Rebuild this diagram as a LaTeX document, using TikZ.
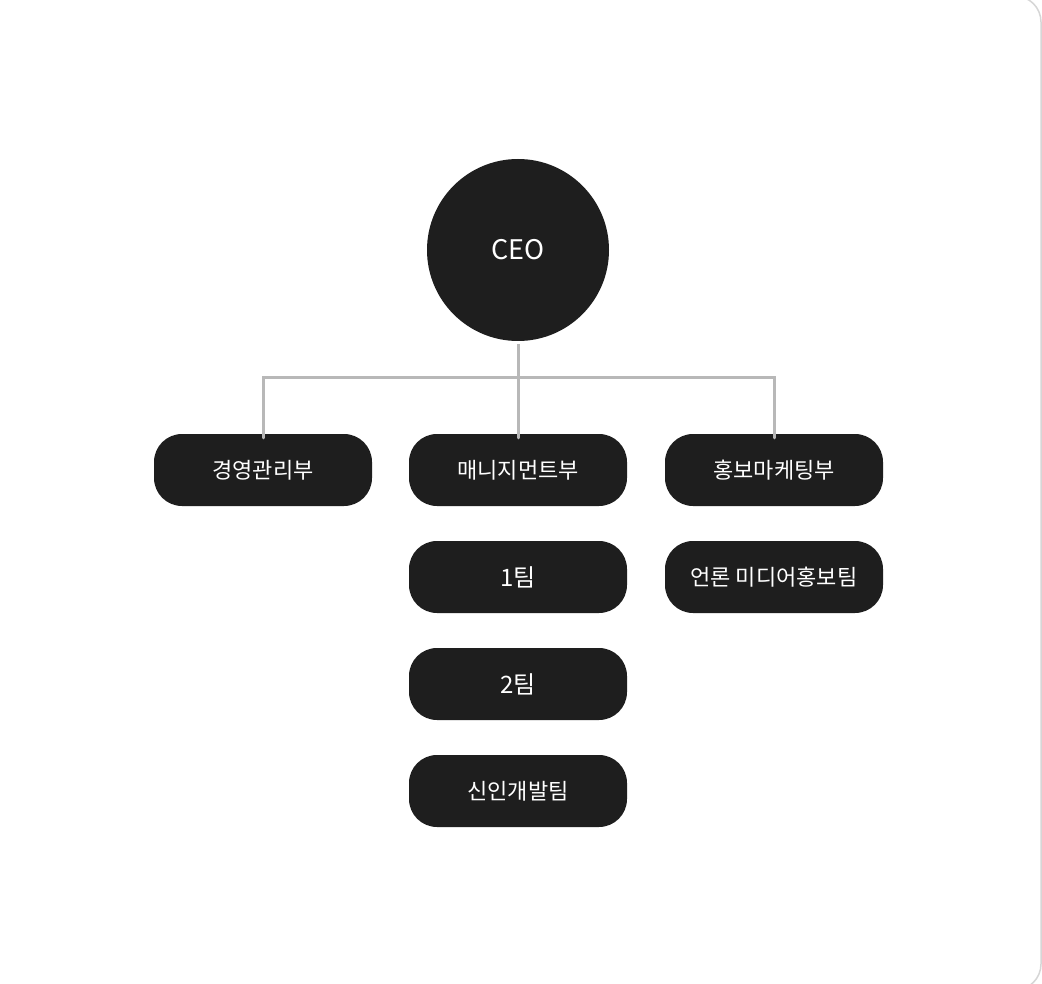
\documentclass[tikz,border=0pt]{standalone}
\usepackage{fontspec}
\setmainfont{Noto Sans CJK KR}
\definecolor{boxfill}{HTML}{1E1E1E}
\definecolor{linegray}{HTML}{B8B8B8}
\definecolor{cardline}{HTML}{D6D6D6}
\begin{document}
\begin{tikzpicture}[x=1pt,y=-1pt,
  unit/.style={draw=none,fill=boxfill,rounded corners=28pt,minimum width=218pt,minimum height=72pt,text=white,font=\fontsize{22}{26}\selectfont,inner sep=0pt},
  conn/.style={draw=linegray,line width=3pt}]
\useasboundingbox (0,0) rectangle (1042,984);
\fill[white] (0,0) rectangle (1042,984);
\draw[cardline,line width=1.5pt,rounded corners=26pt] (-30,-4) rectangle (1041,990);
\node[circle,fill=boxfill,minimum size=182pt,inner sep=0pt,text=white,font=\fontsize{27}{30}\selectfont] (ceo) at (518,250) {CEO};
\node[unit] (a) at (263,470) {경영관리부};
\node[unit] (b) at (518,470) {매니지먼트부};
\node[unit] (c) at (774,470) {홍보마케팅부};
\node[unit,font=\fontsize{24}{28}\selectfont] (b1) at (518,577) {1팀};
\node[unit,font=\fontsize{24}{28}\selectfont] (b2) at (518,684) {2팀};
\node[unit] (b3) at (518,791) {신인개발팀};
\node[unit] (c1) at (774,577) {언론 미디어홍보팀};
\coordinate (j) at (518,378);
\draw[conn] ([yshift=-3pt]ceo.south) -- (j);
\draw[conn,line cap=round] ([yshift=-4pt]a.north) |- (j) -| ([yshift=-4pt]c.north);
\draw[conn,line cap=round] (j) -- ([yshift=-4pt]b.north);
\end{tikzpicture}
\end{document}
